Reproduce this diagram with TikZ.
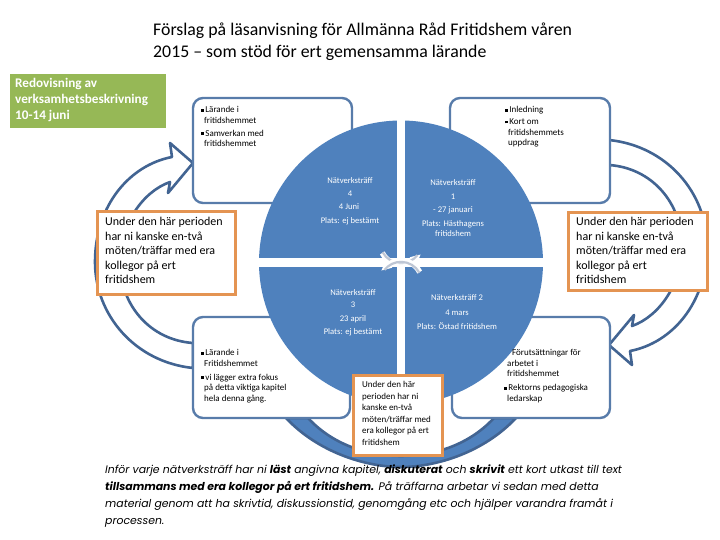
\documentclass[tikz,border=0pt]{standalone}
\usepackage{fontspec}
\setmainfont{Carlito}
\newfontfamily\bottomfont{Poppins}
\usetikzlibrary{arrows.meta}
\definecolor{pieblue}{RGB}{79,129,189}
\definecolor{lineblue}{RGB}{66,100,146}
\definecolor{boxblue}{RGB}{88,124,170}
\definecolor{orangeb}{RGB}{228,148,82}
\definecolor{greenb}{RGB}{150,184,86}
\definecolor{midgray}{RGB}{190,198,212}
\newcommand{\bul}{\raisebox{0.2ex}{\rule{0.32em}{0.32em}}\hspace{0.15em}}
\tikzset{
  arrowband/.style={draw=lineblue, line width=2.6pt, fill=white, line join=round},
  cornerbox/.style={draw=boxblue, line width=2.4pt, fill=white, rounded corners=10pt},
  orangebox/.style={draw=orangeb, line width=3pt, fill=white},
  qtext/.style={text=white, font=\fontsize{8.6}{10}\selectfont, inner sep=0pt},
  btext/.style={font=\fontsize{9}{10.8}\selectfont, align=left, inner sep=0pt, anchor=north west},
  otext/.style={font=\fontsize{12}{14.5}\selectfont, align=left, inner sep=0pt, anchor=north west},
  ltext/.style={font=\bottomfont\itshape\fontsize{10.9}{12}\selectfont, inner sep=0pt, anchor=base west},
}
\def\sidearrow{(193,368) .. controls (135,362) and (95,315) .. (95,262) .. controls (95,205) and (130,165) .. (172,157) -- (170,143) -- (193,163) -- (168,193) -- (170,182) .. controls (142,192) and (120,225) .. (120,262) .. controls (120,305) and (150,340) .. (193,343) -- cycle}
\begin{document}
\begin{tikzpicture}[x=1pt,y=-1pt]
\useasboundingbox (0,0) rectangle (720,540);
\fill[white] (0,0) rectangle (720,540);
% curved arrows
\filldraw[arrowband] \sidearrow;
\begin{scope}[shift={(802,508)}, rotate=180]
\filldraw[arrowband] \sidearrow;
\end{scope}
\filldraw[arrowband, fill=pieblue] (286,418) .. controls (318,452) and (365,467) .. (401,467) .. controls (437,467) and (484,452) .. (516,418) -- (494,418) .. controls (468,446) and (432,456) .. (401,456) .. controls (370,456) and (334,446) .. (308,418) -- cycle;
% corner boxes
\node[cornerbox, minimum width=159pt, minimum height=105pt, inner sep=0pt] (tlbox) at (272.5,150.5) {};
\node[cornerbox, minimum width=160pt, minimum height=105pt, inner sep=0pt] (trbox) at (530,150.5) {};
\node[cornerbox, minimum width=157pt, minimum height=101pt, inner sep=0pt] (blbox) at (271.5,367.5) {};
\node[cornerbox, minimum width=158pt, minimum height=101pt, inner sep=0pt] (brbox) at (531,367.5) {};
% pie
\coordinate (pc) at (401,262.5);
\fill[pieblue] (pc) circle[radius=142pt];
\begin{scope}
\clip (pc) circle[radius=143pt];
\fill[white] (397,100) rectangle (405,420);
\fill[white] (250,258) rectangle (560,267);
\end{scope}
% center cycle arrows
\draw[white, line width=5.5pt, -{Triangle[length=7pt,width=12pt]}] (pc) ++(207:21) arc[start angle=207, end angle=327, radius=21pt];
\draw[midgray, line width=2.2pt] (pc) ++(209:21) arc[start angle=209, end angle=322, radius=21pt];
\draw[white, line width=5.5pt, -{Triangle[length=7pt,width=12pt]}] (pc) ++(27:21) arc[start angle=27, end angle=147, radius=21pt];
\draw[midgray, line width=2.2pt] (pc) ++(29:21) arc[start angle=29, end angle=142, radius=21pt];
% quadrant texts
\node[qtext] (q4a) at (350,181) {Nätverksträff};
\node[qtext] (q4b) at (350,194) {4};
\node[qtext] (q4c) at (349,207) {4 Juni};
\node[qtext] (q4d) at (350,221) {Plats: ej bestämt};
\node[qtext] (q1a) at (453,183) {Nätverksträff};
\node[qtext] (q1b) at (453,197) {1};
\node[qtext] (q1c) at (453,210) {- 27 januari};
\node[qtext] (q1d) at (453,224) {Plats: Hästhagens};
\node[qtext] (q1e) at (453,234) {fritidshem};
\node[qtext] (q3a) at (353,293) {Nätverksträff};
\node[qtext] (q3b) at (353,305) {3};
\node[qtext] (q3c) at (353,319) {23 april};
\node[qtext] (q3d) at (353,332) {Plats: ej bestämt};
\node[qtext] (q2a) at (457,298) {Nätverksträff 2};
\node[qtext] (q2b) at (457,313) {4 mars};
\node[qtext] (q2c) at (457,326) {Plats: Östad fritidshem};
% corner box texts
\node[btext] (tltext) at (201,106) {\bul Lärande i\\ \hspace*{3pt}fritidshemmet\\[2pt] \bul Samverkan med\\ \hspace*{3pt}fritidshemmet};
\node[btext] (trtext) at (505,106) {\bul Inledning\\[1pt] \bul Kort om\\ \hspace*{3pt}fritidshemmets\\ \hspace*{3pt}uppdrag};
\node[btext] (bltext) at (201,349) {\bul Lärande i\\ \hspace*{3pt}Fritidshemmet\\[3pt] \bul vi lägger extra fokus\\ \hspace*{3pt}på detta viktiga kapitel\\ \hspace*{3pt}hela denna gång.};
\node[btext] (brtext) at (504,349) {\hspace*{8pt}Förutsättningar för\\ \hspace*{3pt}arbetet i\\ \hspace*{3pt}fritidshemmet\\[3pt] \bul Rektorns pedagogiska\\ \hspace*{3pt}ledarskap};
% orange boxes
\node[orangebox, minimum width=138pt, minimum height=82pt, inner sep=0pt] (oleft) at (166,253) {};
\node[otext] (olefttext) at (105,217) {Under den här perioden\\ har ni kanske en-två\\ möten/träffar med era\\ kollegor på ert\\ fritidshem};
\node[orangebox, minimum width=139pt, minimum height=77pt, inner sep=0pt] (oright) at (637.5,251.5) {};
\node[otext] (orighttext) at (576,217) {Under den här perioden\\ har ni kanske en-två\\ möten/träffar med era\\ kollegor på ert\\ fritidshem};
\node[orangebox, minimum width=89pt, minimum height=80pt, inner sep=0pt] (ocenter) at (397.5,415) {};
\node[otext, font=\fontsize{9}{11.6}\selectfont] (ocentertext) at (362,381) {Under den här\\ perioden har ni\\ kanske en-två\\ möten/träffar med\\ era kollegor på ert\\ fritidshem};
% green box
\node[fill=greenb, minimum width=156pt, minimum height=54pt, inner sep=0pt] (green) at (88,101) {};
\node[otext, text=white, font=\bfseries\fontsize{13.2}{16}\selectfont] (greentext) at (15,78) {Redovisning av\\ verksamhetsbeskrivning\\ 10-14 juni};
% title
\node[inner sep=0pt, anchor=base west, font=\fontsize{17.8}{20}\selectfont] (title1) at (153,36) {Förslag på läsanvisning för Allmänna Råd Fritidshem våren};
\node[inner sep=0pt, anchor=base west, font=\fontsize{17.8}{20}\selectfont] (title2) at (153,58) {2015 – som stöd för ert gemensamma lärande};
% bottom text
\node[ltext] (l1) at (105,473) {Inför varje nätverksträff har ni \textbf{läst} angivna kapitel, \textbf{diskuterat} och \textbf{skrivit} ett kort utkast till text};
\node[ltext] (l2) at (105,490) {\textbf{tillsammans med era kollegor på ert fritidshem.} På träffarna arbetar vi sedan med detta};
\node[ltext] (l3) at (105,507) {material genom att ha skrivtid, diskussionstid, genomgång etc och hjälper varandra framåt i};
\node[ltext] (l4) at (105,524) {processen.};
\end{tikzpicture}
\end{document}
